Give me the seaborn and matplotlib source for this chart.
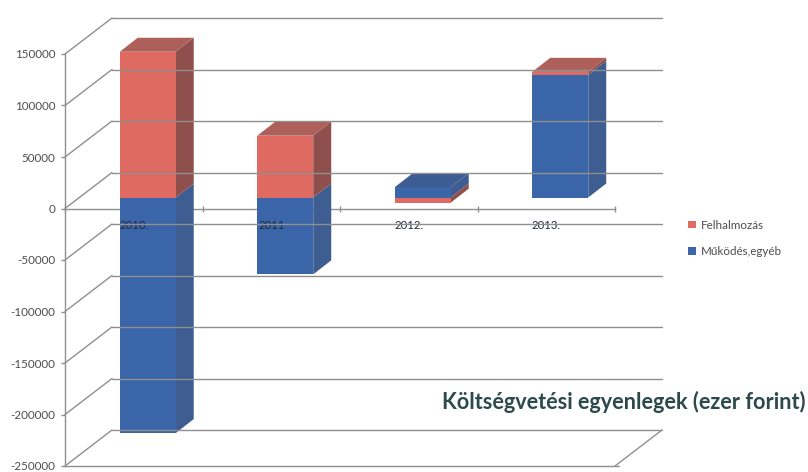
import numpy as np
import seaborn as sns
from matplotlib import pyplot as plt
from matplotlib.lines import Line2D
from matplotlib.patches import Polygon
from matplotlib.transforms import Affine2D, IdentityTransform

years = ['2010.', '2011', '2012.', '2013.']
felhalmozas = [141500, 60000, -5000, 3000]
mukodes = [-228700, -74600, 10000, 119000]
y_ticks = [150000, 100000, 50000, 0, -50000, -100000, -150000, -200000, -250000]

RED, RED_TOP, RED_SIDE = '#df6a62', '#ad5f5a', '#8f4f4c'
BLUE, BLUE_TOP, BLUE_SIDE = '#3b65a9', '#3c5c92', '#3e5d90'
GRID = '#8f8f8f'
TEXT = '#4d4d4d'

sns.set_theme(style='white')
plt.rcParams['font.family'] = ['Lato', 'DejaVu Sans']
plt.rcParams['axes.unicode_minus'] = False

W, H = 808, 472
fig = plt.figure(figsize=(W / 100, H / 100), dpi=100)
ax = fig.add_axes([65 / W, 1 - 466 / H, 550 / W, 412 / H])
ax.patch.set_alpha(0)

# stack: blue from zero, red on top of blue only when both have the same sign
red_bottom = [m if m * f > 0 else 0 for m, f in zip(mukodes, felhalmozas)]
stack_top = [max(0, m, f + b) for m, f, b in zip(mukodes, felhalmozas, red_bottom)]

sns.barplot(x=years, y=mukodes, color=BLUE, saturation=1, width=0.407, ax=ax,
            label='Működés,egyéb', zorder=5, linewidth=0)
sns.barplot(x=years, y=felhalmozas, bottom=red_bottom, color=RED, saturation=1, width=0.407,
            ax=ax, label='Felhalmozás', zorder=6, linewidth=0)

ax.set_xlim(-0.5, 3.5)
ax.set_ylim(-250000, 150000)
ax.set_yticks(y_ticks)
ax.set_ylabel('')

# depth of the walls and of the bars, in pixels
wall_dx, wall_dy = 47, 36
front_dx, front_dy = 14, 11
bar_dx, bar_dy = 18, 14


def px(x, y):
    return ax.transData.transform((x, y))


def wall_line(p0, p1):
    fig.add_artist(Line2D([p0[0] / W, p1[0] / W], [p0[1] / H, p1[1] / H], color=GRID, lw=1,
                          zorder=0.5))


for v in y_ticks:
    a = px(-0.5, v)
    b = px(3.5, v)
    back_a = a + (wall_dx, wall_dy)
    back_b = b + (wall_dx, wall_dy)
    wall_line(a, back_a)
    wall_line(back_a, back_b)
floor_right = px(3.5, y_ticks[-1])
wall_line(floor_right, floor_right + (wall_dx, wall_dy))
wall_line(px(-0.5, y_ticks[-1]), floor_right + (4, 0))

# front, side and top faces of the bars
shift = ax.transData + Affine2D().translate(front_dx, front_dy)
faces = [(ax.containers[0], BLUE_SIDE, BLUE_TOP), (ax.containers[1], RED_SIDE, RED_TOP)]
for bars, side_color, top_color in faces:
    for i, rect in enumerate(bars):
        rect.set_transform(shift)
        rect.set_clip_on(False)
        x0, x1 = rect.get_x(), rect.get_x() + rect.get_width()
        y0, y1 = sorted([rect.get_y(), rect.get_y() + rect.get_height()])
        off = np.array([front_dx, front_dy])
        depth = np.array([bar_dx, bar_dy])
        lo, hi, left = px(x1, y0) + off, px(x1, y1) + off, px(x0, y1) + off
        ax.add_patch(Polygon([lo, hi, hi + depth, lo + depth], closed=True, fc=side_color, lw=0,
                             transform=IdentityTransform(), clip_on=False, zorder=4))
        if y1 >= stack_top[i]:
            ax.add_patch(Polygon([left, hi, hi + depth, left + depth], closed=True, fc=top_color,
                                 lw=0, transform=IdentityTransform(), clip_on=False, zorder=4))

sns.despine(ax=ax, top=True, right=True)
ax.spines['bottom'].set_position(('data', 0))
for side in ['left', 'bottom']:
    ax.spines[side].set_color(GRID)
    ax.spines[side].set_linewidth(1)
    ax.spines[side].set_zorder(1)
ax.xaxis.set_zorder(10)
ax.set_xticks(np.arange(-0.5, 4), minor=True)
ax.tick_params(axis='x', which='major', bottom=False, length=0, pad=8, labelsize=8.2,
               labelcolor='#1f2a38')
ax.tick_params(axis='x', which='minor', bottom=True, length=4, width=1, color=GRID,
               direction='inout')
ax.tick_params(axis='y', left=True, length=3, width=1, color=GRID, pad=4, labelsize=8.4,
               labelcolor=TEXT)

handles, labels = ax.get_legend_handles_labels()
ax.legend(handles[::-1], labels[::-1], loc='center left', bbox_to_anchor=(688 / W, 1 - 238.5 / H),
          bbox_transform=fig.transFigure, frameon=False, fontsize=8.4, handlelength=0.65,
          handleheight=0.65, handletextpad=0.45, labelspacing=1.35, labelcolor=TEXT,
          borderpad=0, borderaxespad=0)

fig.text(806 / W, 1 - 402 / H, 'Költségvetési egyenlegek (ezer forint)', ha='right', va='center',
         fontsize=15.6, fontweight='bold', color='#2c4a4c')

plt.savefig('out.png', dpi=100)
